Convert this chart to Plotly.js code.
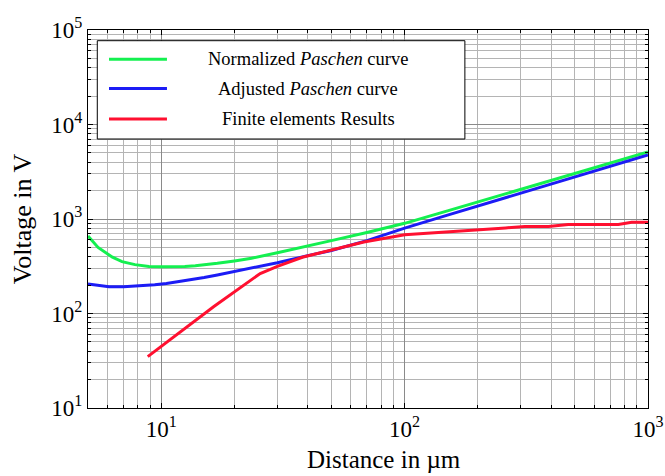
<!DOCTYPE html>
<html>
<head>
<meta charset="utf-8">
<script src="https://cdn.plot.ly/plotly-3.0.1.min.js"></script>
<style>
  html, body { margin: 0; padding: 0; background: #fff; }
  #chart { width: 665px; height: 476px; }
</style>
</head>
<body>
<div id="chart"></div>
<script>
// Breakdown voltage versus electrode distance (log-log)
const seriesNames = ['Normalized <i>Paschen</i> curve', 'Adjusted <i>Paschen</i> curve', 'Finite elements Results'];

const normalizedX = [5, 5.5, 6.3, 6.9, 7.8, 8.9, 10, 11, 12.5, 13.8, 15.5, 17, 20, 23.5, 30, 40, 50, 70, 100, 150, 200, 300, 500, 700, 1000];
const normalizedY = [660, 500, 394, 354, 329, 315, 312, 312, 315, 321, 330, 340, 360, 384, 440, 515, 590, 720, 900, 1220, 1520, 2070, 3030, 3900, 5120];

const adjustedX = [5, 5.5, 6.1, 7, 7.6, 8.5, 9.4, 10.5, 12.5, 15, 17, 20, 24, 30, 40, 50, 70, 100, 150, 200, 300, 500, 700, 1000];
const adjustedY = [205, 198, 192, 192, 194, 197, 202, 208, 222, 240, 256, 278, 303, 345, 410, 465, 590, 800, 1100, 1370, 1870, 2770, 3580, 4750];

const feX = [8.8, 16.4, 25.5, 30, 38, 50, 68, 100, 150, 207, 260, 312, 390, 470, 600, 755, 857, 1000];
const feY = [35, 118, 265, 315, 394, 470, 570, 680, 725, 768, 805, 832, 832, 875, 875, 875, 925, 925];

const xTickVals = [10, 100, 1000];
const xTickText = ['10<sup>1</sup>', '10<sup>2</sup>', '10<sup>3</sup>'];
const yTickVals = [10, 100, 1000, 10000, 100000];
const yTickText = ['10<sup>1</sup>', '10<sup>2</sup>', '10<sup>3</sup>', '10<sup>4</sup>', '10<sup>5</sup>'];

const colors = ['#14f050', '#1c1cf5', '#ff1030'];
const serif = 'Liberation Serif, Times New Roman, serif';

// minor positions 2..9 within each decade
function minorVals(lo, hi) {
  const out = [];
  for (let e = lo; e < hi; e++) {
    for (let m = 2; m <= 9; m++) out.push(m * Math.pow(10, e));
  }
  return out;
}

const traces = [
  { x: normalizedX, y: normalizedY, name: seriesNames[0] },
  { x: adjustedX, y: adjustedY, name: seriesNames[1] },
  { x: feX, y: feY, name: seriesNames[2] }
].map((t, i) => Object.assign(t, {
  type: 'scatter', mode: 'lines',
  line: { color: colors[i], width: 3 },
  showlegend: false, hoverinfo: 'skip'
}));

// legend box drawn in paper coordinates over the plot area
const legendRows = [0.9225, 0.8452, 0.7646];
const shapes = [{
  type: 'rect', xref: 'paper', yref: 'paper',
  x0: 0.0166, x1: 0.673, y0: 0.7116, y1: 0.9717,
  line: { color: '#000', width: 1 }, fillcolor: '#fff', layer: 'above'
}];
const annotations = [];
legendRows.forEach((yy, i) => {
  shapes.push({
    type: 'line', xref: 'paper', yref: 'paper',
    x0: 0.0375, x1: 0.141, y0: yy, y1: yy,
    line: { color: colors[i], width: 3 }, layer: 'above'
  });
  annotations.push({
    xref: 'paper', yref: 'paper', x: 0.393, y: yy,
    xanchor: 'center', yanchor: 'middle', showarrow: false,
    text: seriesNames[i], font: { family: serif, size: 18.5, color: '#000' }
  });
});
annotations.push({
  xref: 'paper', yref: 'paper', x: 0.5286, y: -0.178,
  xanchor: 'center', yanchor: 'bottom', showarrow: false,
  text: 'Distance in µm', font: { family: serif, size: 25, color: '#000' }
});

const axisCommon = {
  type: 'log',
  tickmode: 'array',
  ticks: 'inside', ticklen: 5, tickwidth: 1, tickcolor: '#000',
  showline: true, linecolor: '#000', linewidth: 1, mirror: 'allticks',
  showgrid: true, gridcolor: '#8a8a8a', gridwidth: 1,
  zeroline: false,
  tickfont: { family: serif, size: 23, color: '#000' }
};

const layout = {
  width: 665, height: 476,
  margin: { l: 88, r: 17, t: 30, b: 68 },
  paper_bgcolor: '#fff', plot_bgcolor: '#fff',
  xaxis: Object.assign({}, axisCommon, {
    range: [Math.log10(5), 3],
    tickvals: xTickVals, ticktext: xTickText,
    minor: { tickvals: minorVals(0, 3), ticks: 'inside', ticklen: 3, tickcolor: '#000', showgrid: true, gridcolor: '#b4b4b4', gridwidth: 1 }
  }),
  yaxis: Object.assign({}, axisCommon, {
    range: [1, 5],
    tickvals: yTickVals, ticktext: yTickText,
    title: { text: 'Voltage in V', font: { family: serif, size: 26, color: '#000' }, standoff: 12 },
    minor: { tickvals: minorVals(1, 5), ticks: 'inside', ticklen: 3, tickcolor: '#000', showgrid: true, gridcolor: '#b4b4b4', gridwidth: 1 }
  }),
  shapes: shapes,
  annotations: annotations,
  showlegend: false
};

Plotly.newPlot('chart', traces, layout, { displayModeBar: false, staticPlot: true });
</script>
</body>
</html>
